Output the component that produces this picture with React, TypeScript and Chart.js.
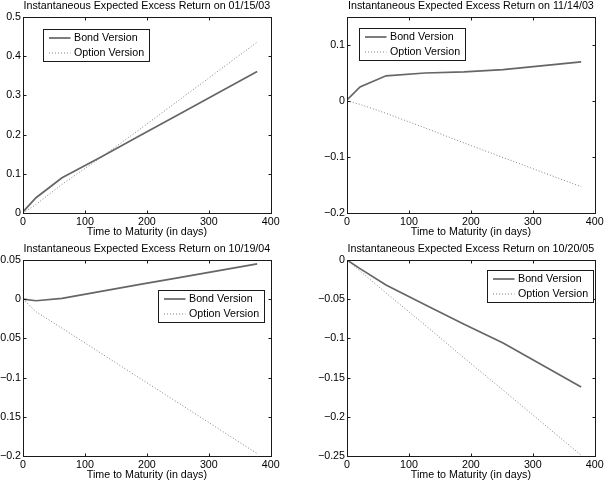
import React, { useEffect, useRef } from "react";
import { Chart, registerables } from "chart.js";

Chart.register(...registerables);

const FONT = '"Liberation Sans", Arial, Helvetica, sans-serif';
const FS = 10.7;

// ---- data ----
const maturities = [0, 21, 63, 126, 189, 252, 378];
const xTicks = [0, 100, 200, 300, 400];

const titles = [
  "Instantaneous Expected Excess Return on 01/15/03",
  "Instantaneous Expected Excess Return on 11/14/03",
  "Instantaneous Expected Excess Return on 10/19/04",
  "Instantaneous Expected Excess Return on 10/20/05",
];
const seriesNames = ["Bond Version", "Option Version"];

const bond030115 = [0.003, 0.039, 0.09, 0.143, 0.198, 0.252, 0.361];
const option030115 = [0, 0.022, 0.073, 0.142, 0.214, 0.288, 0.436];

const bond031114 = [0.002, 0.025, 0.045, 0.05, 0.052, 0.056, 0.07];
const option031114 = [0, -0.006, -0.022, -0.048, -0.075, -0.101, -0.153];

const bond041019 = [0, -0.002, 0.001, 0.01, 0.019, 0.0275, 0.045];
const option041019 = [0, -0.016, -0.037, -0.069, -0.101, -0.133, -0.197];

const bond051020 = [0, -0.011, -0.032, -0.057, -0.082, -0.106, -0.162];
const option051020 = [0, -0.014, -0.042, -0.083, -0.125, -0.166, -0.249];

const yTicks1 = [0, 0.1, 0.2, 0.3, 0.4, 0.5];
const yTicks2 = [-0.2, -0.1, 0, 0.1];
const yTicks3 = [-0.2, -0.15, -0.1, -0.05, 0, 0.05];
const yTicks4 = [-0.25, -0.2, -0.15, -0.1, -0.05, 0];

const yRange1 = [0, 0.5];
const yRange2 = [-0.2, 0.15];
const yRange3 = [-0.2, 0.05];
const yRange4 = [-0.25, 0];

const panels = [
  { title: titles[0], bond: bond030115, option: option030115, yTicks: yTicks1, yRange: yRange1 },
  { title: titles[1], bond: bond031114, option: option031114, yTicks: yTicks2, yRange: yRange2 },
  { title: titles[2], bond: bond041019, option: option041019, yTicks: yTicks3, yRange: yRange3 },
  { title: titles[3], bond: bond051020, option: option051020, yTicks: yTicks4, yRange: yRange4 },
];

// ---- layout (positions / styles) ----
const Y_AXIS_W = 45;
const X_AXIS_H = 30;
const TITLE_H = 17;
const RIGHT_PAD = 10;
const PLOT_W = 249;
const PLOT_H = 196;
const CANVAS_W = Y_AXIS_W + PLOT_W + RIGHT_PAD;
const CANVAS_H = TITLE_H + PLOT_H + X_AXIS_H;

const placements = [
  { left: 23 - Y_AXIS_W, top: 0, legend: { corner: "tl", dx: 20, dy: 12 } },
  { left: 347 - Y_AXIS_W, top: 0, legend: { corner: "tl", dx: 11.5, dy: 10.5 } },
  { left: 23 - Y_AXIS_W, top: 243, legend: { corner: "tr", dx: 6.5, dy: 29.5 } },
  { left: 347 - Y_AXIS_W, top: 243, legend: { corner: "tr", dx: 2, dy: 9.5 } },
];

const fmt = (v: number) => String(Math.round(v * 1000) / 1000).replace("-", "\u2212");

const matlabPlugin = {
  id: "matlab",
  afterDatasetsDraw(chart: any, _args: any, opts: any) {
    const { ctx, chartArea: a, scales } = chart;
    ctx.save();
    const L = Math.round(a.left) + 0.5;
    const T = Math.round(a.top) + 0.5;
    const R = Math.round(a.right) + 0.5;
    const B = Math.round(a.bottom) + 0.5;
    ctx.strokeStyle = "#1a1a1a";
    ctx.lineWidth = 1;
    const tl = 3;
    ctx.beginPath();
    for (const t of scales.x.ticks) {
      const px = Math.round(scales.x.getPixelForValue(t.value)) + 0.5;
      ctx.moveTo(px, B);
      ctx.lineTo(px, B - tl);
      ctx.moveTo(px, T);
      ctx.lineTo(px, T + tl);
    }
    for (const t of scales.y.ticks) {
      const py = Math.round(scales.y.getPixelForValue(t.value)) + 0.5;
      ctx.moveTo(L, py);
      ctx.lineTo(L + tl, py);
      ctx.moveTo(R, py);
      ctx.lineTo(R - tl, py);
    }
    ctx.stroke();
    ctx.strokeRect(L, T, R - L, B - T);

    // legend
    const lg = opts.legend;
    if (lg) {
      const w = 106;
      const h = 32;
      const x = Math.round(lg.corner === "tl" ? a.left + lg.dx : a.right - lg.dx - w) + 0.5;
      const y = Math.round(a.top + lg.dy) + 0.5;
      ctx.fillStyle = "#ffffff";
      ctx.fillRect(x, y, w, h);
      ctx.strokeStyle = "#1a1a1a";
      ctx.lineWidth = 1;
      ctx.setLineDash([]);
      ctx.strokeRect(x, y, w, h);
      ctx.font = `${FS}px ${FONT}`;
      ctx.textBaseline = "middle";
      ctx.textAlign = "left";
      chart.data.datasets.forEach((ds: any, i: number) => {
        const ry = Math.round(y + 8.7 + i * 14.6);
        ctx.save();
        ctx.strokeStyle = ds.borderColor;
        ctx.lineWidth = ds.borderWidth;
        ctx.setLineDash(ds.borderDash || []);
        ctx.beginPath();
        ctx.moveTo(x + 5.5, ry);
        ctx.lineTo(x + 27, ry);
        ctx.stroke();
        ctx.restore();
        ctx.fillStyle = "#000000";
        ctx.fillText(ds.label, x + 30.5, ry);
      });
    }
    ctx.restore();
  },
};

function Panel({ idx }: { idx: number }) {
  const ref = useRef<HTMLCanvasElement | null>(null);
  const p = panels[idx];
  const pl = placements[idx];
  useEffect(() => {
    if (!ref.current) return;
    const chart = new Chart(ref.current, {
      type: "line",
      data: {
        datasets: [
          {
            label: seriesNames[0],
            data: maturities.map((m, i) => ({ x: m, y: p.bond[i] })),
            borderColor: "#666666",
            borderWidth: 1.7,
            pointRadius: 0,
            tension: 0,
            fill: false,
          },
          {
            label: seriesNames[1],
            data: maturities.map((m, i) => ({ x: m, y: p.option[i] })),
            borderColor: "#808080",
            borderWidth: 1,
            borderDash: [1, 2],
            pointRadius: 0,
            tension: 0,
            fill: false,
          },
        ],
      },
      options: {
        responsive: false,
        animation: false,
        events: [],
        layout: { padding: { left: 0, right: RIGHT_PAD, top: 0, bottom: 0 } },
        plugins: {
          legend: { display: false },
          tooltip: { enabled: false },
          title: {
            display: true,
            text: p.title,
            fullSize: false,
            color: "#000000",
            font: { family: FONT, size: FS, weight: "normal", lineHeight: 1.2 },
            padding: { top: 0, bottom: TITLE_H - FS * 1.2 },
          },
          matlab: { legend: pl.legend },
        } as any,
        scales: {
          x: {
            type: "linear",
            min: 0,
            max: 400,
            afterBuildTicks: (s: any) => {
              s.ticks = xTicks.map((value) => ({ value }));
            },
            afterFit: (s: any) => {
              s.height = X_AXIS_H;
            },
            grid: { display: false, drawTicks: false },
            border: { display: false },
            ticks: {
              color: "#000000",
              padding: 2.3,
              maxRotation: 0,
              autoSkip: false,
              font: { family: FONT, size: FS, lineHeight: 1.2 },
              callback: (v: any) => fmt(Number(v)),
            },
            title: {
              display: true,
              text: "Time to Maturity (in days)",
              color: "#000000",
              font: { family: FONT, size: FS, lineHeight: 1.2 },
              padding: { top: 0, bottom: 4.1 },
            },
          },
          y: {
            type: "linear",
            min: p.yRange[0],
            max: p.yRange[1],
            afterBuildTicks: (s: any) => {
              s.ticks = p.yTicks.map((value) => ({ value }));
            },
            afterFit: (s: any) => {
              s.width = Y_AXIS_W;
            },
            grid: { display: false, drawTicks: false },
            border: { display: false },
            ticks: {
              color: "#000000",
              padding: 2,
              autoSkip: false,
              font: { family: FONT, size: FS, lineHeight: 1.2 },
              callback: (v: any) => fmt(Number(v)),
            },
          },
        },
      },
      plugins: [matlabPlugin],
    } as any);
    return () => chart.destroy();
  }, [idx]);
  return (
    <canvas
      ref={ref}
      width={CANVAS_W}
      height={CANVAS_H}
      style={{
        position: "absolute",
        left: pl.left,
        top: pl.top,
        width: CANVAS_W,
        height: CANVAS_H,
        display: "block",
      }}
    />
  );
}

export default function App() {
  return (
    <div
      style={{
        position: "fixed",
        left: 0,
        top: 0,
        width: 604,
        height: 485,
        overflow: "hidden",
        background: "#ffffff",
      }}
    >
      {panels.map((_, i) => (
        <Panel key={i} idx={i} />
      ))}
    </div>
  );
}
